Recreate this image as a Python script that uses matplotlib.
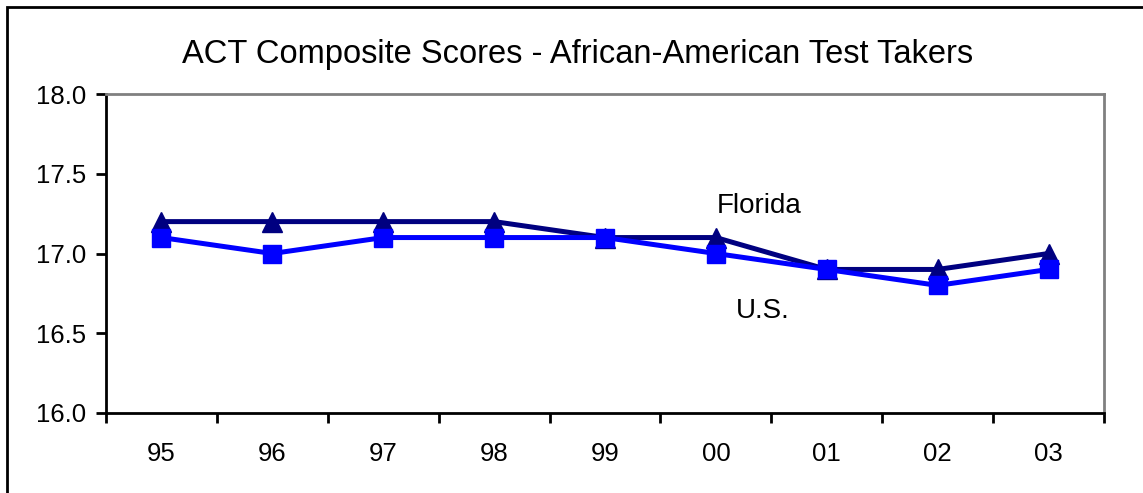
import matplotlib
matplotlib.use("Agg")
import matplotlib.pyplot as plt
from matplotlib.patches import Rectangle
import numpy as np

years = ["95", "96", "97", "98", "99", "00", "01", "02", "03"]
florida = [17.2, 17.2, 17.2, 17.2, 17.1, 17.1, 16.9, 16.9, 17.0]
us = [17.1, 17.0, 17.1, 17.1, 17.1, 17.0, 16.9, 16.8, 16.9]
yticks = [16.0, 16.5, 17.0, 17.5, 18.0]

plt.rcParams['font.family'] = ['Liberation Sans', 'DejaVu Sans']

W, H = 1143, 493
fig = plt.figure(figsize=(W/100, H/100), dpi=100)
ax = fig.add_axes([106/W, 1-413/H, (1104-106)/W, (413-94)/H])

x = np.arange(len(years))
ax.plot(x, florida, color='#000080', lw=3.6, marker='^', ms=14, zorder=3)
ax.plot(x, us, color='#0000FF', lw=3.6, marker='s', ms=13, zorder=4)

ax.set_xlim(-0.5, len(years)-0.5)
ax.set_ylim(16.0, 18.0)
ax.set_yticks(yticks)
ax.set_yticklabels([f"{v:.1f}" for v in yticks], fontsize=18.5)
ax.set_xticks(np.arange(-0.5, len(years), 1.0))
ax.set_xticklabels([])
ax.set_xticks(x, minor=True)
ax.set_xticklabels(years, minor=True, fontsize=18.5)
ax.tick_params(axis='x', which='minor', length=0, pad=21)
ax.tick_params(axis='x', which='major', length=7, width=2, direction='out')
ax.tick_params(axis='y', length=7, width=2, direction='out', pad=7)

for s in ['left', 'bottom']:
    ax.spines[s].set_color('black')
    ax.spines[s].set_linewidth(2)
for s in ['top', 'right']:
    ax.spines[s].set_color('#808080')
    ax.spines[s].set_linewidth(2)

ax.text(5.39, 17.3, "Florida", fontsize=20, ha='center', va='center')
ax.text(5.42, 16.64, "U.S.", fontsize=20, ha='center', va='center')

fig.text(578/W, 1-55/H, "ACT Composite Scores - African-American Test Takers",
         fontsize=23.5, ha='center', va='center')

fig.patches.append(Rectangle((7/W, -0.1), 1.2, 1-7/H+0.1, transform=fig.transFigure,
                             fill=False, edgecolor='black', lw=2))

fig.savefig("out.png", dpi=100)
